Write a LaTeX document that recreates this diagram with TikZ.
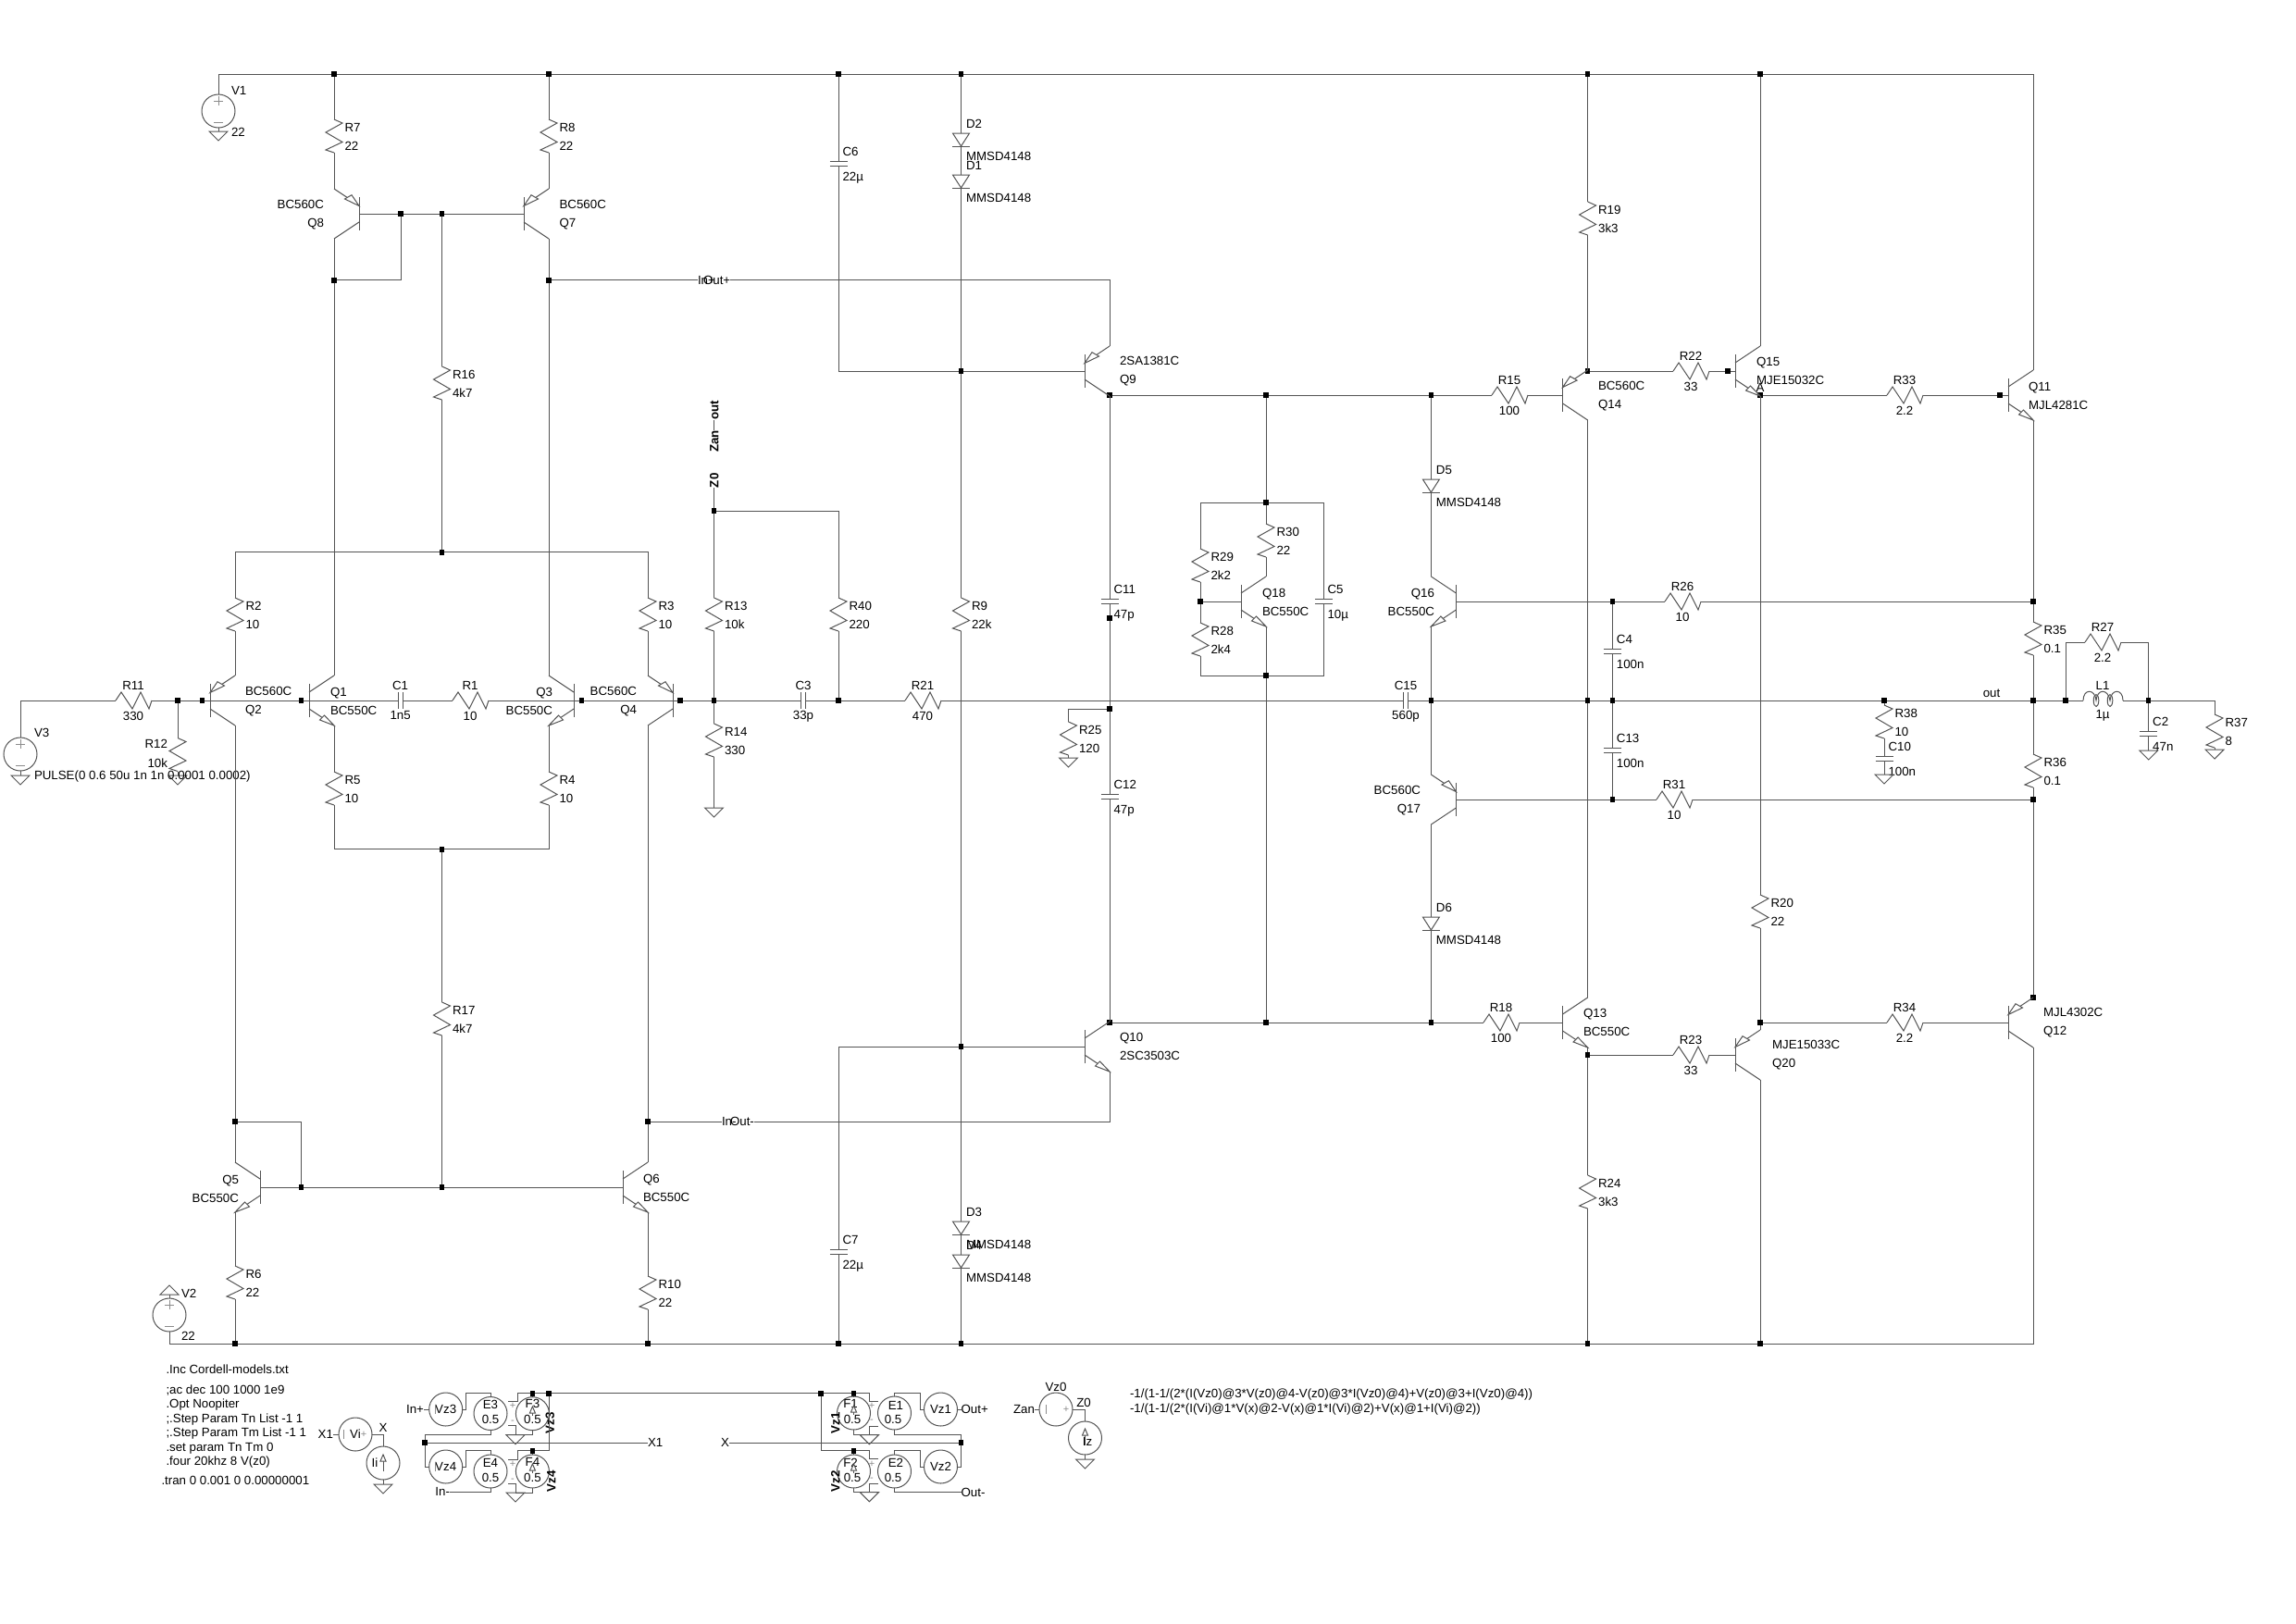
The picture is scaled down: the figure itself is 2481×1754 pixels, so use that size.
\documentclass[tikz,border=0pt]{standalone}
\usepackage{fontspec}
\setmainfont{Liberation Sans}
\definecolor{wirecol}{rgb}{0.33,0.33,0.33}
\definecolor{pincol}{rgb}{0.55,0.55,0.55}

\tikzset{
    wire/.style={line width=1pt, draw=wirecol},
    lbl/.style={font=\fontsize{13.3}{15}\selectfont, inner sep=0pt, outer sep=0pt, text height=9.6pt, text depth=0pt, anchor=west},
    tag/.style={lbl, font=\fontsize{13.3}{15}\selectfont\bfseries, rotate=90},
    dot/.style={rectangle, fill=black, minimum width=5.5pt, minimum height=6pt, inner sep=0pt, outer sep=0pt},
    ring/.style={lbl, anchor=center, circle, wire, minimum size=36pt},
    pol/.style={font=\fontsize{11}{12}\selectfont, text=pincol, inner sep=0pt, outer sep=0pt},
    % resistors, the origin is the middle of the zigzag
    pics/resv/.style 2 args={code={
        \draw[wire] (0,-18) -- (9,-14) -- (-9,-4) -- (9,6.5) -- (-9,15) -- (0,18);
        \coordinate (-a) at (0,-18);
        \coordinate (-b) at (0,18);
        \node[lbl] (-name) at (11.5,-9.5) {#1};
        \node[lbl] (-val) at (11.5,11) {#2};
    }},
    pics/resh/.style 2 args={code={
        \draw[wire] (-19,0) -- (-13,-9) -- (-1,9) -- (8,-9) -- (17,9) -- (20,0);
        \coordinate (-a) at (-19,0);
        \coordinate (-b) at (20,0);
        \node[lbl,anchor=center] (-name) at (0,-16) {#1};
        \node[lbl,anchor=center] (-val) at (0,16.5) {#2};
    }},
    % capacitors
    pics/capv/.style 2 args={code={
        \draw[wire] (-9.5,-2.2) -- (9.5,-2.2) (-9.5,2.2) -- (9.5,2.2);
        \coordinate (-a) at (0,-2.2);
        \coordinate (-b) at (0,2.2);
        \node[lbl] (-name) at (4.5,-13) {#1};
        \node[lbl] (-val) at (4.5,14) {#2};
    }},
    pics/caph/.style 2 args={code={
        \draw[wire] (-2.5,-9) -- (-2.5,9) (2.5,-9) -- (2.5,9);
        \coordinate (-a) at (-2.5,0);
        \coordinate (-b) at (2.5,0);
        \node[lbl,anchor=center] (-name) at (0,-16) {#1};
        \node[lbl,anchor=center] (-val) at (0,16) {#2};
    }},
    % diode, the origin is the top of the triangle
    pics/diode/.style 2 args={code={
        \draw[wire] (-9,0) -- (9,0) -- (0,14) -- cycle;
        \draw[wire] (-9.5,14) -- (9.5,14);
        \coordinate (-a) at (0,0);
        \coordinate (-k) at (0,14);
        \node[lbl] (-name) at (5.5,-10.5) {#1};
        \node[lbl] (-val) at (5.5,25) {#2};
    }},
    % transistors, the origin is on the wire, the bar is 27 to the left
    pics/npn/.style={code={
        \draw[wire] (-27,-18) -- (-27,18);
        \draw[wire] (0,-27) -- (-27,-9) (-27,9) -- (0,27);
        \draw[wire,fill=white] (0,27) -- (-10.5,16) -- (-15.5,21) -- cycle;
        \coordinate (-c) at (0,-27);
        \coordinate (-e) at (0,27);
        \coordinate (-b) at (-27,0);
    }},
    pics/pnp/.style={code={
        \draw[wire] (-27,-18) -- (-27,18);
        \draw[wire] (0,-27) -- (-27,-9) (-27,9) -- (0,27);
        \draw[wire,fill=white] (-27,-8.5) -- (-11.5,-16) -- (-19,-20.3) -- cycle;
        \coordinate (-e) at (0,-27);
        \coordinate (-c) at (0,27);
        \coordinate (-b) at (-27,0);
    }},
    pics/gnd/.style={code={
        \draw[wire] (-10,0) -- (10,0) -- (0,10) -- cycle;
        \coordinate (-t) at (0,0);
    }},
    pics/vsrc/.style={code={
        \draw[wire] (0,0) circle [radius=18];
        \draw[pincol, line width=0.8pt] (-5,-11) -- (5,-11) (0,-16) -- (0,-6) (-5,12) -- (5,12);
        \coordinate (-t) at (0,-18);
        \coordinate (-b) at (0,18);
    }},
    % little current arrow of the controlled sources
    pics/curup/.style={code={
        \draw[wire] (0,0) -- (0,-#1);
        \draw[wire,fill=white] (0,-#1) -- (-3,-#1+7) -- (3,-#1+7) -- cycle;
    }},
}

\begin{document}
\begin{tikzpicture}[x=1pt,y=-1pt]
    \useasboundingbox (0,0) rectangle (2481,1754);

    % junction dots
    \foreach \nm/\x/\y in {jt1/361/80,jt2/593/80,jt3/906/80,jt4/1038.5/80,jt5/1715.6/80,jt6/1902/80,
        jb1/254/1452,jb2/700/1452,jb3/906/1452,jb4/1038.5/1452,jb5/1715.6/1452,jb6/1902/1452,
        jq8c/361/302.5,jq8b/433/231,jm1/477.5/231,jq7c/593/302.5,jtail/477.5/596.5,jsink/477.5/917.5,
        ji1/192/757,ji2/218.4/757,ji3/325.5/757,ji4/628.6/757,ji5/735/757,ji6/771.5/757,jfb/906/757,
        jz0/771.5/552,jq5a/254/1212,jq5b/325.7/1283,jm2/477.5/1283,jq6c/700/1212,
        jd1/1038.5/401,jd2/1038.5/1131,jv1/1199/427,jc11/1199/668,jr25/1199/766,jv3/1199/1105,
        jn1/1368/427,jn2/1368/543,jn3/1368/730,jn4/1368/1105,jd5/1546.4/427,jo1/1546.4/757,jd6/1546.4/1105,
        jp1/1297/650,jq14e/1715.6/401,jo2/1715.6/757,jq13e/1715.6/1140,jf1/1742.4/650,jf2/1742.4/757,jf3/1742.4/864,
        jq15b/1867/401,jq15e/1902/427,jq20e/1902/1105,jq11b/2161/427,
        jo3/2036/757,jo4/2197/757,jr26/2197/650,jr31/2197/864,jq12e/2197/1078,jl1/2232/757,jl2/2321.7/757,
        js1/459/1559,js2/575.4/1505.7,js3/593/1505.7,js4/575.4/1567.7,js5/887/1505.7,js6/922.5/1505.7,js7/922.5/1567.7,js8/1038.6/1559} {
        \node[dot] (\nm) at (\x,\y) {};
    }
    \coordinate (jv2) at (1199,757); % crossing without a dot

    % vertical resistors
    \foreach \nm/\x/\y/\val in {R7/361/147/22,R8/593/147/22,R16/477.5/414/4k7,R2/254/664/10,R3/700/664/10,
        R13/771.5/664/10k,R14/771.5/800/330,R5/361/852/10,R4/593/852/10,R17/477.5/1101/4k7,
        R6/254/1386/22,R10/700/1397/22,R40/906/664/220,R9/1038.5/664/22k,R35/2197/690/0.1,R36/2197/833/0.1,
        R37/2393/790/8,R38/2036/780/10,R19/1715.6/236/3k3,R20/1902/985/22,R24/1715.6/1288/3k3,
        R25/1154.5/798/120,R30/1368/584/22,R29/1297/611/2k2,R28/1297/691/2k4} {
        \pic (\nm) at (\x,\y) {resv={\nm}{\val}};
    }
    \pic (R12) at (192,815.5) {resv={}{}};
    \node[lbl,anchor=east] (R12name) at (181,804) {R12};
    \node[lbl,anchor=east] (R12val) at (181,825) {10k};

    % horizontal resistors
    \foreach \nm/\x/\y/\val in {R11/144/757/330,R1/508/757/10,R21/997/757/470,R15/1631/427/100,R22/1827/401/33,
        R33/2058/427/2.2,R26/1818/650/10,R31/1809/864/10,R18/1622/1105/100,R23/1827/1140/33,
        R34/2058/1105/2.2,R27/2272/694/2.2} {
        \pic (\nm) at (\x,\y) {resh={\nm}{\val}};
    }

    % capacitors
    \foreach \nm/\x/\y/\val in {C6/906/177/22µ,C7/906/1353/22µ,C11/1199/650/47p,C12/1199/861/47p,C4/1742.4/704/100n,
        C13/1742.4/811/100n,C5/1430/650/10µ,C10/2036/820/100n,C2/2321.7/793/47n} {
        \pic (\nm) at (\x,\y) {capv={\nm}{\val}};
    }
    \foreach \nm/\x/\val in {C1/432.6/1n5,C3/868/33p,C15/1519/560p} {
        \pic (\nm) at (\x,757) {caph={\nm}{\val}};
    }

    % diodes
    \foreach \nm/\x/\y in {D2/1038.5/144,D1/1038.5/189,D3/1038.5/1320,D4/1038.5/1356,D5/1546.4/518,D6/1546.4/991} {
        \pic (\nm) at (\x,\y) {diode={\nm}{MMSD4148}};
    }

    % transistors, sx=-1 puts the base on the right
    \foreach \nm/\x/\y/\sx in {Q1/361/757/1,Q3/593/757/-1,Q5/254/1283/-1,Q6/700/1283/1,Q10/1199/1131/1,Q18/1368/650/1,
        Q16/1546.4/650/-1,Q13/1715.6/1105/1,Q15/1902/401/1,Q11/2197/427/1} {
        \pic[xscale=\sx] (\nm) at (\x,\y) {npn};
    }
    \foreach \nm/\x/\y/\sx in {Q8/361/231/-1,Q7/593/231/1,Q2/254/757/1,Q4/700/757/-1,Q9/1199/401/1,Q17/1546.4/864/-1,
        Q14/1715.6/427/1,Q20/1902/1140/1,Q12/2197/1105/1} {
        \pic[xscale=\sx] (\nm) at (\x,\y) {pnp};
    }
    % their two text lines
    \foreach \nm/\x/\y/\anc/\ta/\tb in {Q8/350/231/east/BC560C/Q8,Q7/604.6/231/west/BC560C/Q7,Q2/265/756.5/west/BC560C/Q2,
        Q1/357/758/west/Q1/BC550C,Q3/597/758/east/Q3/BC550C,Q4/688/756.5/east/BC560C/Q4,Q5/258/1285/east/Q5/BC550C,
        Q6/695/1284/west/Q6/BC550C,Q9/1210/400/west/2SA1381C/Q9,Q10/1210/1131/west/Q10/2SC3503C,Q18/1364/651/west/Q18/BC550C,
        Q16/1550/651/east/Q16/BC550C,Q17/1535/863.5/east/BC560C/Q17,Q14/1727/426.5/west/BC560C/Q14,Q13/1711/1105/west/Q13/BC550C,
        Q15/1898/401/west/Q15/MJE15032C,Q11/2192/428/west/Q11/MJL4281C,Q20/1915/1139/west/MJE15033C/Q20,Q12/2208/1103.5/west/MJL4302C/Q12} {
        \node[lbl,anchor=\anc] (\nm ta) at (\x,\y-10) {\ta};
        \node[lbl,anchor=\anc] (\nm tb) at (\x,\y+10) {\tb};
    }

    % inductor
    \coordinate (L1-a) at (2251,757);
    \coordinate (L1-b) at (2294,757);
    \draw[wire] (L1-a) .. controls (2251,744) and (2264,744) .. (2265,757) .. controls (2266,744) and (2278,744) .. (2280,757) .. controls (2281,744) and (2294,744) .. (L1-b);
    \draw[wire] (2265,757) circle [x radius=2.8, y radius=6.5] (2280,757) circle [x radius=2.8, y radius=6.5];
    \node[lbl,anchor=center] (L1name) at (2272,741) {L1};
    \node[lbl,anchor=center] (L1val) at (2272,772) {1µ};

    % sources and grounds
    \foreach \nm/\x/\y in {V1/236/120,V2/183/1421,V3/22/815} {
        \pic (\nm) at (\x,\y) {vsrc};
    }
    \foreach \nm/\x/\y in {gV1/236/142,gV3/22/838,gR12/192/838,gR14/771.5/873,gR25/1154.5/819,gC10/2036/837,gC2/2321.7/811,gR37/2393/810,
        gIi/414/1604,gE3/557/1550.7,gE4/557/1613,gF1/939.4/1550.7,gF2/939.4/1612.7,gIz/1172.5/1577} {
        \pic (\nm) at (\x,\y) {gnd};
    }
    \pic[yscale=-1] (gV2) at (183,1399) {gnd};

    % plain texts
    \foreach \nm/\x/\y/\txt in {tV1/250/97.5/V1,tV1v/250/143/22,tV2/196/1398/V2,tV2v/196/1444/22,tV3/37/792/V3,
        tV3v/37/838/PULSE(0 0.6 50u 1n 1n 0.0001 0.0002),lInp/754/302.5/In+,lOutp/760/302.5/Out+,lInm/780/1212/In-,lOutm/789/1212/Out-} {
        \node[lbl] (\nm) at (\x,\y) {\txt};
    }
    \node[lbl,anchor=center] (tA) at (1902,419) {A};
    \node[lbl,anchor=center] (tout) at (2152,749) {out};
    \node[tag] (lZ0) at (771.5,527) {Z0};
    \node[tag] (lZan) at (771.5,488.6) {Zan};
    \node[tag] (lout) at (771.5,453.6) {out};

    % supply rails
    \draw[wire] (V1-t) |- (jt1) -- (jt2) -- (jt3) -- (jt4) -- (jt5) -- (jt6) -| (Q11-c);
    \draw[wire] (V2-b) |- (jb1) -- (jb2) -- (jb3) -- (jb4) -- (jb5) -- (jb6) -| (Q12-c);
    \draw[wire] (V1-b) -- (gV1-t);
    \draw[wire] (V2-t) -- (gV2-t);

    % input stage
    \draw[wire] (jt1) -- (R7-a) (R7-b) -- (Q8-e);
    \draw[wire] (jt2) -- (R8-a) (R8-b) -- (Q7-e);
    \draw[wire] (Q8-c) -- (jq8c) -- (Q1-c);
    \draw[wire] (jq8c) -| (jq8b);
    \draw[wire] (Q8-b) -- (jq8b) -- (jm1) -- (Q7-b);
    \draw[wire] (Q7-c) -- (jq7c) -- (Q3-c);
    \draw[wire] (jq7c) -- (lInp.west);
    \draw[wire] (lOutp.east) -| (Q9-e);
    \draw[wire] (jm1) -- (R16-a) (R16-b) -- (jtail);
    \draw[wire] (R2-a) |- (jtail) -| (R3-a);
    \draw[wire] (R2-b) -- (Q2-e) (R3-b) -- (Q4-e);
    \draw[wire] (Q2-c) -- (jq5a) -- (Q5-c);
    \draw[wire] (jq5a) -| (jq5b);
    \draw[wire] (Q5-b) -- (jq5b) -- (jm2) -- (Q6-b);
    \draw[wire] (Q5-e) -- (R6-a) (R6-b) -- (jb1);
    \draw[wire] (Q4-c) -- (jq6c) -- (Q6-c);
    \draw[wire] (Q6-e) -- (R10-a) (R10-b) -- (jb2);
    \draw[wire] (jq6c) -- (lInm.west);
    \draw[wire] (lOutm.east) -| (Q10-e);
    \draw[wire] (Q1-e) -- (R5-a) (Q3-e) -- (R4-a);
    \draw[wire] (R5-b) |- (jsink) -| (R4-b);
    \draw[wire] (jsink) -- (R17-a) (R17-b) -- (jm2);

    % signal line
    \draw[wire] (V3-t) |- (R11-a);
    \draw[wire] (R11-b) -- (ji1) -- (ji2) -- (Q2-b) -- (ji3) -- (Q1-b) -- (C1-a);
    \draw[wire] (C1-b) -- (R1-a) (R1-b) -- (Q3-b) -- (ji4) -- (Q4-b) -- (ji5) -- (ji6) -- (C3-a);
    \draw[wire] (C3-b) -- (jfb) -- (R21-a);
    \draw[wire] (R21-b) -- (jv2) -- (C15-a);
    \draw[wire] (C15-b) -- (jo1) -- (jo2) -- (jf2) -- (jo3) -- (jo4) -- (jl1) -- (L1-a);
    \draw[wire] (L1-b) -- (jl2) -| (R37-a);
    \draw[wire] (R37-b) -- (gR37-t);
    \draw[wire] (V3-b) -- (gV3-t);
    \draw[wire] (ji1) -- (R12-a) (R12-b) -- (gR12-t);
    \draw[wire] (jz0) -- (R13-a) (R13-b) -- (ji6) -- (R14-a) (R14-b) -- (gR14-t);
    \draw[wire] (jz0) -| (R40-a);
    \draw[wire] (R40-b) -- (jfb);
    \draw[wire] (jz0) -- (lZ0.west);
    \draw[wire] (lZan.east) -- (lout.west);

    % voltage amplifier
    \draw[wire] (jt4) -- (D2-a) (D2-k) -- (D1-a) (D1-k) -- (jd1) -- (R9-a) (R9-b) -- (jd2) -- (D3-a) (D3-k) -- (D4-a) (D4-k) -- (jb4);
    \draw[wire] (jt3) -- (C6-a);
    \draw[wire] (C6-b) |- (jd1) -- (Q9-b);
    \draw[wire] (jb3) -- (C7-b);
    \draw[wire] (C7-a) |- (jd2) -- (Q10-b);
    \draw[wire] (Q9-c) -- (jv1) -- (C11-a);
    \draw[wire] (C11-b) -- (jc11) -- (jv2) -- (jr25) -- (C12-a);
    \draw[wire] (C12-b) -- (jv3) -- (Q10-c);
    \draw[wire] (jr25) -| (R25-a);
    \draw[wire] (R25-b) -- (gR25-t);

    % bias
    \draw[wire] (jv1) -- (jn1) -- (jd5) -- (R15-a) (R15-b) -- (Q14-b);
    \draw[wire] (jn1) -- (jn2) -- (R30-a) (R30-b) -- (Q18-c);
    \draw[wire] (jn2) -| (R29-a);
    \draw[wire] (jn2) -| (C5-a);
    \draw[wire] (R29-b) -- (jp1) -- (R28-a);
    \draw[wire] (jp1) -- (Q18-b);
    \draw[wire] (R28-b) |- (jn3);
    \draw[wire] (C5-b) |- (jn3);
    \draw[wire] (Q18-e) -- (jn3) -- (jn4);
    \draw[wire] (jv3) -- (jn4) -- (jd6) -- (R18-a) (R18-b) -- (Q13-b);
    \draw[wire] (jd5) -- (D5-a) (D5-k) -- (Q16-c);
    \draw[wire] (Q16-e) -- (jo1) -- (Q17-e);
    \draw[wire] (Q17-c) -- (D6-a) (D6-k) -- (jd6);
    \draw[wire] (Q16-b) -- (jf1) -- (R26-a) (R26-b) -- (jr26);
    \draw[wire] (Q17-b) -- (jf3) -- (R31-a) (R31-b) -- (jr31);
    \draw[wire] (jf1) -- (C4-a) (C4-b) -- (jf2) -- (C13-a) (C13-b) -- (jf3);

    % output stage
    \draw[wire] (jt5) -- (R19-a) (R19-b) -- (jq14e) -- (Q14-e);
    \draw[wire] (jq14e) -- (R22-a) (R22-b) -- (jq15b) -- (Q15-b);
    \draw[wire] (Q14-c) -- (jo2) -- (Q13-c);
    \draw[wire] (Q13-e) -- (jq13e) -- (R24-a) (R24-b) -- (jb5);
    \draw[wire] (jq13e) -- (R23-a) (R23-b) -- (Q20-b);
    \draw[wire] (jt6) -- (Q15-c);
    \draw[wire] (Q15-e) -- (jq15e) -- (R20-a) (R20-b) -- (jq20e) -- (Q20-e);
    \draw[wire] (Q20-c) -- (jb6);
    \draw[wire] (jq15e) -- (R33-a) (R33-b) -- (jq11b) -- (Q11-b);
    \draw[wire] (jq20e) -- (R34-a) (R34-b) -- (Q12-b);
    \draw[wire] (Q11-e) -- (jr26) -- (R35-a) (R35-b) -- (jo4) -- (R36-a) (R36-b) -- (jr31) -- (jq12e) -- (Q12-e);
    \draw[wire] (jo3) -- (R38-a) (R38-b) -- (C10-a) (C10-b) -- (gC10-t);
    \draw[wire] (jl1) |- (R27-a);
    \draw[wire] (R27-b) -| (jl2);
    \draw[wire] (jl2) -- (C2-a) (C2-b) -- (gC2-t);

    % directives
    \foreach \nm/\y/\txt in {d1/1480/.Inc Cordell-models.txt,d2/1502/;ac dec 100 1000 1e9,d3/1517/.Opt Noopiter,
        d4/1533/;.Step Param Tn List -1 1,d5/1548/;.Step Param Tm List -1 1,d6/1564/.set param Tn Tm 0,d7/1579/.four 20khz 8 V(z0)} {
        \node[lbl] (\nm) at (179.5,\y) {\txt};
    }
    \node[lbl] (d8) at (174.5,1600) {.tran 0 0.001 0 0.00000001};
    \node[lbl] (f1) at (1221,1506) {-1/(1-1/(2*(I(Vz0)@3*V(z0)@4-V(z0)@3*I(Vz0)@4)+V(z0)@3+I(Vz0)@4))};
    \node[lbl] (f2) at (1221,1522) {-1/(1-1/(2*(I(Vi)@1*V(x)@2-V(x)@1*I(Vi)@2)+V(x)@1+I(Vi)@2))};

    % measuring circuit, rings first
    \foreach \nm/\x/\y/\txt in {cVi/384/1550/Vi,cIi/414/1581/,cVz3/481.7/1523/Vz3,cVz4/481.7/1585/Vz4,cVz1/1016.5/1523/Vz1,cVz2/1016.5/1585/Vz2,
        cVz0/1141/1523/,cIz/1172.5/1554/,cE3/530/1527.5/,cE4/530/1590/,cE1/966.5/1527/,cE2/966.5/1590/,cF3/575.4/1527.7/,cF4/575.4/1590/,cF1/922.5/1527/,cF2/922.5/1590/} {
        \node[ring] (\nm) at (\x,\y) {\txt};
    }
    % texts inside the E and F sources
    \foreach \nm/\x/\y/\ta in {E3/530/1518/E3,E4/530/1581/E4,E1/968/1519/E1,E2/968/1581/E2,F3/575.4/1517/F3,F4/575.4/1580/F4,F1/919/1517/F1,F2/919/1581/F2} {
        \node[lbl,anchor=center] (\nm t) at (\x,\y) {\ta};
    }
    \foreach \nm/\x/\y in {vE3/530/1534,vE4/530/1597,vE1/965/1534,vE2/965/1597,vF3/575.4/1534,vF4/575.4/1597,vF1/921/1534,vF2/921/1597} {
        \node[lbl,anchor=center] (\nm) at (\x,\y) {0.5};
    }
    \foreach \nm/\x/\y in {aF3/575.4/1530,aF4/575.4/1592,aF1/922.5/1529,aF2/922.5/1592} {
        \pic (\nm) at (\x,\y) {curup=10};
    }
    \pic (aIi) at (414,1590) {curup=18};
    \pic (aIz) at (1172.5,1562) {curup=18};
    \node[lbl,anchor=center] (tIi) at (405,1581) {Ii};
    \node[lbl,anchor=center] (tIz) at (1175,1558) {Iz};
    \node[lbl,anchor=center] (tVz0) at (1141,1499) {Vz0};
    \node[lbl,anchor=center] (tZ0) at (1171,1516) {Z0};
    \foreach \nm/\x/\y/\ta in {pa1/554/1519/+,pa2/554/1537/-,pa3/554/1582/+,pa4/554/1600/-,pa5/942/1519/+,pa6/942/1536/-,pa7/942/1582/+,pa8/942/1599/-,pa9/393/1550/+,pa10/1152/1523/+} {
        \node[pol] (\nm) at (\x,\y) {\ta};
    }
    \foreach \x/\y in {371/1550,1130/1523,470/1523,470/1585} {
        \draw[pincol, line width=0.8pt] (\x,\y-5) -- (\x,\y+5);
    }
    \node[tag,anchor=center] (tVz3) at (594,1538) {Vz3};
    \node[tag,anchor=center] (tVz4) at (595.5,1601) {Vz4};
    \node[tag,anchor=center] (tVz1) at (902.6,1538) {Vz1};
    \node[tag,anchor=center] (tVz2) at (902.6,1601) {Vz2};
    % its net names
    \node[lbl,anchor=east] (lX1b) at (360,1550) {X1};
    \node[lbl,anchor=center] (tX) at (414,1543) {X};
    \node[lbl,anchor=east] (lInp2) at (458,1523) {In+};
    \node[lbl,anchor=east] (lInm2) at (486,1612) {In-};
    \node[lbl] (lX1) at (700,1559) {X1};
    \node[lbl,anchor=east] (lX) at (788,1559) {X};
    \node[lbl] (lOutp2) at (1038.6,1523) {Out+};
    \node[lbl] (lOutm2) at (1038.6,1612.7) {Out-};
    \node[lbl,anchor=east] (lZan2) at (1118,1523) {Zan};
    % free corners and pins
    \foreach \nm/\x/\y in {tE3/530/1505.7,uE3/459/1550,tE4/530/1567.7,pE3p/549/1514,pE3m/549/1540,pE4p/549/1577,pE4m/549/1603,
        tE1/994/1505.7,uE1/1038.6/1550,tE2/966.5/1567.7,pE1p/949/1514,pE1m/949/1541,pE2p/949/1576,pE2m/949/1603} {
        \coordinate (\nm) at (\x,\y);
    }
    % its wires
    \draw[wire] (lX1b.east) -- (cVi.west);
    \draw[wire] (cVi.east) -| (cIi.north);
    \draw[wire] (cIi.south) -- (gIi-t);
    \draw[wire] (lInp2.east) -- (cVz3.west);
    \draw[wire] (cVz3.east) -- ++(4,0) |- (tE3) -- (cE3.north);
    \draw[wire] (cE3.south) |- (uE3) -- (js1);
    \draw[wire] (js1) -- (lX1.west);
    \draw[wire] (js1) |- (cVz4.west);
    \draw[wire] (cVz4.east) -- ++(4,0) |- (tE4) -- (cE4.north);
    \draw[wire] (cE4.south) |- (lInm2.east);
    \draw[wire] (pE3p) -- ++(10,0) |- (js2);
    \draw[wire] (js2) -- (cF3.north);
    \draw[wire] (js2) -- (js3) -- (js5) -- (js6) -- (cF1.north);
    \draw[wire] (js3) |- (js4) -- (cF4.north);
    \draw[wire] (pE4p) -- ++(10,0) |- (js4);
    \draw[wire] (pE3m) -| (gE3-t);
    \draw[wire] (cF3.south) |- (gE3-t);
    \draw[wire] (pE4m) -| (gE4-t);
    \draw[wire] (cF4.south) |- (gE4-t);
    \draw[wire] (pE1p) -- ++(-9.5,0) |- (js6);
    \draw[wire] (cF1.south) |- (gF1-t);
    \draw[wire] (pE1m) -| (gF1-t);
    \draw[wire] (cE1.north) |- (tE1) |- (cVz1.west);
    \draw[wire] (cVz1.east) -- (lOutp2.west);
    \draw[wire] (cE1.south) |- (uE1) -- (js8);
    \draw[wire] (js8) -- (lX.east);
    \draw[wire] (js8) |- (cVz2.east);
    \draw[wire] (cVz2.west) -- ++(-4.5,0) |- (tE2) -- (cE2.north);
    \draw[wire] (cE2.south) |- (lOutm2.west);
    \draw[wire] (js5) |- (js7) -- (cF2.north);
    \draw[wire] (pE2p) -- ++(-9.5,0) |- (js7);
    \draw[wire] (cF2.south) |- (gF2-t);
    \draw[wire] (pE2m) -| (gF2-t);
    \draw[wire] (lZan2.east) -- (cVz0.west);
    \draw[wire] (cVz0.east) -| (cIz.north);
    \draw[wire] (cIz.south) -- (gIz-t);
\end{tikzpicture}
\end{document}
